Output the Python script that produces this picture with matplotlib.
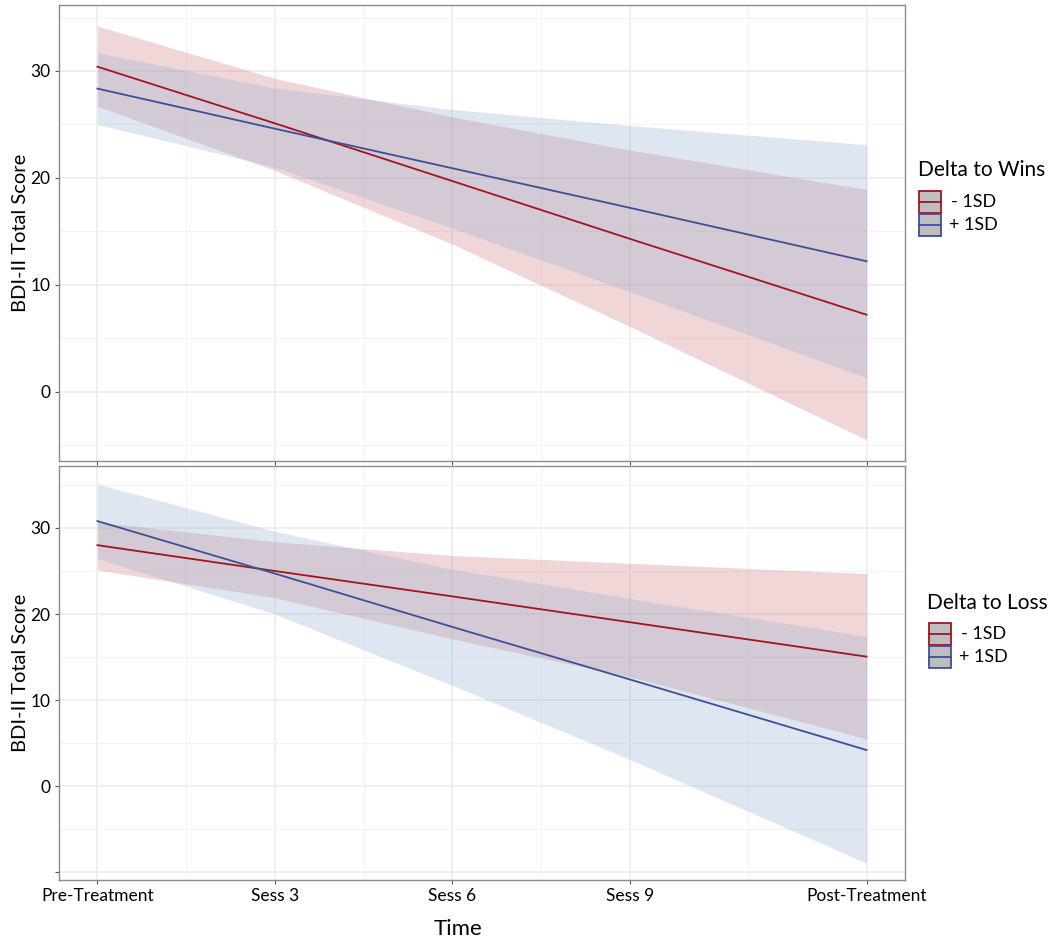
import matplotlib
matplotlib.use("Agg")
import matplotlib.pyplot as plt
from matplotlib.patches import Rectangle
from matplotlib.lines import Line2D

plt.rcParams['font.family'] = ['Lato', 'DejaVu Sans']

# ---- data ----
time_vals = [0, 3, 6, 9, 13]
time_labels = ["Pre-Treatment", "Sess 3", "Sess 6", "Sess 9", "Post-Treatment"]
group_labels = ["- 1SD", "+ 1SD"]

# Top panel: Delta to Wins
wins_low_fit = [30.4, 25.1, 19.7, 14.3, 7.2]
wins_low_lo = [26.7, 20.7, 13.8, 6.1, -4.5]
wins_low_hi = [34.2, 29.3, 25.7, 22.6, 18.9]
wins_high_fit = [28.35, 24.6, 20.9, 17.2, 12.2]
wins_high_lo = [25.0, 21.0, 15.3, 9.35, 1.3]
wins_high_hi = [31.7, 28.4, 26.4, 24.9, 23.1]

# Bottom panel: Delta to Loss
loss_low_fit = [28.0, 25.0, 22.05, 19.05, 15.05]
loss_low_lo = [25.1, 21.9, 17.1, 12.7, 5.5]
loss_low_hi = [30.7, 28.4, 26.8, 25.9, 24.7]
loss_high_fit = [30.8, 24.7, 18.5, 12.4, 4.2]
loss_high_lo = [26.45, 20.0, 11.7, 3.1, -8.95]
loss_high_hi = [35.1, 29.6, 25.2, 21.8, 17.4]

RED = "#A3141E"
BLUE = "#3E4F98"
RED_FILL = "#C86468"
BLUE_FILL = "#8AACD0"
RED_ALPHA = 0.26
BLUE_ALPHA = 0.28

W, H = 1050, 944
fig = plt.figure(figsize=(W / 100, H / 100), dpi=100)

def px_rect(l, t, r, b):
    return [l / W, 1 - b / H, (r - l) / W, (b - t) / H]

ax1 = fig.add_axes(px_rect(59, 5, 905, 461))
ax2 = fig.add_axes(px_rect(59, 466, 905, 880))

def style(ax, ylim, yticks, yticklabels, minor_y, show_xlabels):
    ax.set_xlim(-0.65, 13.65)
    ax.set_ylim(*ylim)
    ax.set_xticks(time_vals)
    ax.set_xticks([1.5, 4.5, 7.5, 11], minor=True)
    ax.set_yticks(yticks)
    ax.set_yticklabels(yticklabels)
    ax.set_yticks(minor_y, minor=True)
    ax.grid(True, which='major', color='#EBEBEB', lw=1.1, zorder=0)
    ax.grid(True, which='minor', color='#F3F3F3', lw=0.8, zorder=0)
    ax.set_axisbelow(True)
    for s in ax.spines.values():
        s.set_color('#8C8C8C')
        s.set_linewidth(1.0)
    ax.tick_params(which='major', length=3, color='#555555', width=0.8,
                   labelsize=12.5, labelcolor='black', pad=3)
    ax.tick_params(which='minor', length=0)
    if show_xlabels:
        ax.set_xticklabels(time_labels)
    else:
        ax.set_xticklabels([])
    ax.set_ylabel("BDI-II Total Score", fontsize=14.5)

def draw(ax, fits):
    for (fit, lo, hi, lc, fc, a) in fits:
        ax.fill_between(time_vals, lo, hi, color=fc, alpha=a, lw=0, zorder=2)
    for (fit, lo, hi, lc, fc, a) in fits:
        ax.plot(time_vals, fit, color=lc, lw=1.3, zorder=3)

draw(ax1, [(wins_low_fit, wins_low_lo, wins_low_hi, RED, RED_FILL, RED_ALPHA),
           (wins_high_fit, wins_high_lo, wins_high_hi, BLUE, BLUE_FILL, BLUE_ALPHA)])
draw(ax2, [(loss_low_fit, loss_low_lo, loss_low_hi, RED, RED_FILL, RED_ALPHA),
           (loss_high_fit, loss_high_lo, loss_high_hi, BLUE, BLUE_FILL, BLUE_ALPHA)])

style(ax1, (-6.48, 36.17), [0, 10, 20, 30], ["0", "10", "20", "30"],
      [-5, 5, 15, 25, 35], False)
style(ax2, (-10.9, 37.2), [-10, 0, 10, 20, 30], ["", "0", "10", "20", "30"],
      [-5, 5, 15, 25, 35], True)
ax1.yaxis.set_label_coords(-0.036, 0.5)
ax2.yaxis.set_label_coords(-0.036, 0.5)
ax2.set_xlabel("Time", fontsize=16)
ax2.xaxis.set_label_coords((458 - 59) / 846, -0.095)

def fx(px):
    return px / W

def fy(py):
    return 1 - py / H

def legend_block(title, title_left, title_cy, box_left, box_top):
    fig.text(fx(title_left), fy(title_cy), title, fontsize=15,
             ha='left', va='center')
    size = 22
    for i, (c, lab) in enumerate(zip((RED, BLUE), group_labels)):
        top = box_top + i * (size + 1)
        rect = Rectangle((fx(box_left), fy(top + size)), size / W, size / H,
                         transform=fig.transFigure, facecolor='#BEBEBE',
                         edgecolor=c, lw=1.3)
        fig.add_artist(rect)
        cy = top + size / 2
        fig.add_artist(Line2D([fx(box_left), fx(box_left + size)], [fy(cy), fy(cy)],
                              transform=fig.transFigure, color=c, lw=1.3))
        off = 32 if lab.startswith("-") else 30
        fig.text(fx(box_left + off), fy(cy), lab, fontsize=13,
                 ha='left', va='center')

legend_block("Delta to Wins", 918, 170, 919, 191)
legend_block("Delta to Loss", 927, 603, 929, 623)

fig.savefig("out.png", dpi=100)
